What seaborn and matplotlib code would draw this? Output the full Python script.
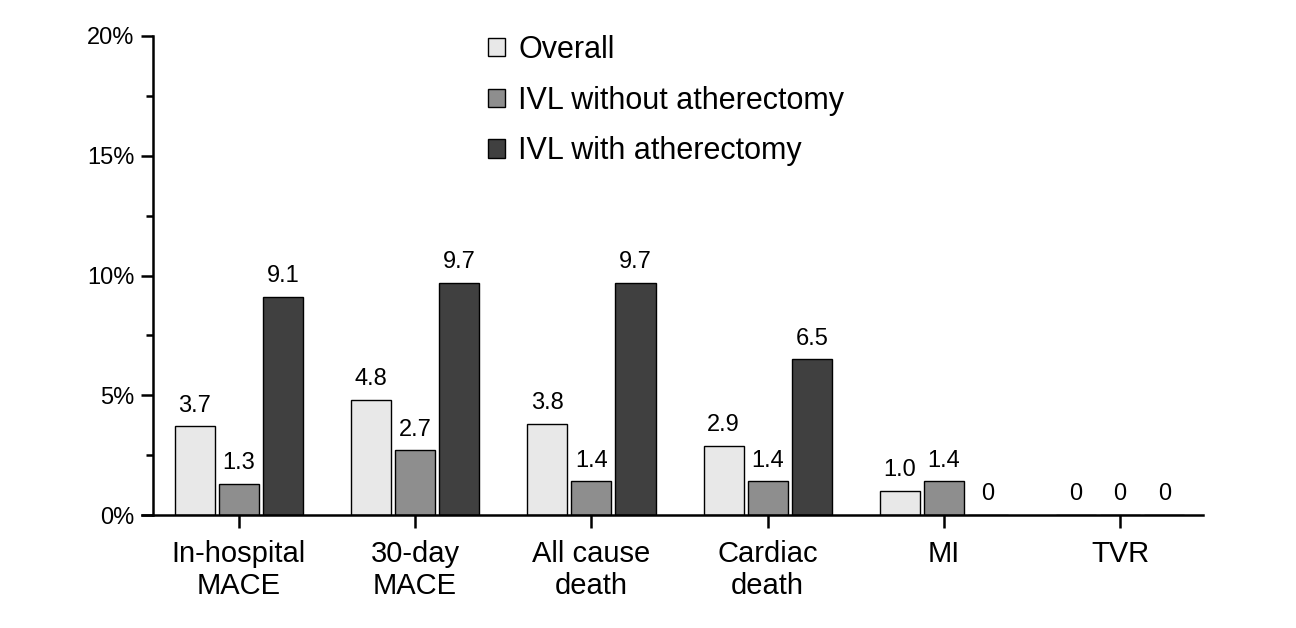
import numpy as np
import pandas as pd
import matplotlib
matplotlib.use("Agg")
import matplotlib.pyplot as plt
import seaborn as sns

# 데이터
categories = ["In-hospital\nMACE", "30-day\nMACE", "All cause\ndeath", "Cardiac\ndeath", "MI", "TVR"]
groups = ["Overall", "IVL without atherectomy", "IVL with atherectomy"]
overall = [3.7, 4.8, 3.8, 2.9, 1.0, 0.0]
ivl_without = [1.3, 2.7, 1.4, 1.4, 1.4, 0.0]
ivl_with = [9.1, 9.7, 9.7, 6.5, 0.0, 0.0]
value_labels = [
    ["3.7", "4.8", "3.8", "2.9", "1.0", "0"],
    ["1.3", "2.7", "1.4", "1.4", "1.4", "0"],
    ["9.1", "9.7", "9.7", "6.5", "0", "0"],
]
colors = ["#e8e8e8", "#8e8e8e", "#404040"]

df = pd.DataFrame({
    "category": categories * 3,
    "group": [groups[0]] * 6 + [groups[1]] * 6 + [groups[2]] * 6,
    "value": overall + ivl_without + ivl_with,
})

sns.set_style("ticks")
plt.rcParams['font.family'] = ['Liberation Sans', 'DejaVu Sans']
plt.rcParams['text.color'] = 'black'
plt.rcParams['xtick.color'] = 'black'
plt.rcParams['ytick.color'] = 'black'
plt.rcParams['axes.edgecolor'] = 'black'

fig = plt.figure(figsize=(12.96, 6.28), dpi=100)
ax = fig.add_axes([142 / 1296, 1 - 515 / 628, (1203 - 142) / 1296, (515 - 36) / 628])

sns.barplot(data=df, x="category", y="value", hue="group", palette=colors,
            width=0.75, gap=0.09, edgecolor="black", linewidth=1.0,
            ax=ax, legend=True)

# 값 라벨
for i, cont in enumerate(ax.containers):
    ax.bar_label(cont, labels=value_labels[i], padding=7, fontsize=17, color="black")

ax.set_xlim(-0.55, 5.47)
ax.set_ylim(0, 20)
ax.set_yticks([0, 5, 10, 15, 20])
ax.set_yticklabels(["0%", "5%", "10%", "15%", "20%"])
ax.set_yticks([2.5, 7.5, 12.5, 17.5], minor=True)
ax.tick_params(axis="y", which="major", length=9, width=1.8, pad=4, labelsize=17)
ax.tick_params(axis="y", which="minor", length=5, width=1.8)
ax.tick_params(axis="x", length=9, width=1.8, labelsize=21, pad=9)
ax.set_xlabel("")
ax.set_ylabel("")

for s in ["top", "right"]:
    ax.spines[s].set_visible(False)
ax.spines["left"].set_position(("data", -0.49))
ax.spines["left"].set_linewidth(1.8)
ax.spines["bottom"].set_linewidth(1.8)

leg = ax.legend(loc="upper left", bbox_to_anchor=(0.30, 1.06), frameon=False,
                fontsize=22, handlelength=0.55, handleheight=0.55,
                handletextpad=0.45, labelspacing=0.68)

fig.savefig("out.png", dpi=100)
